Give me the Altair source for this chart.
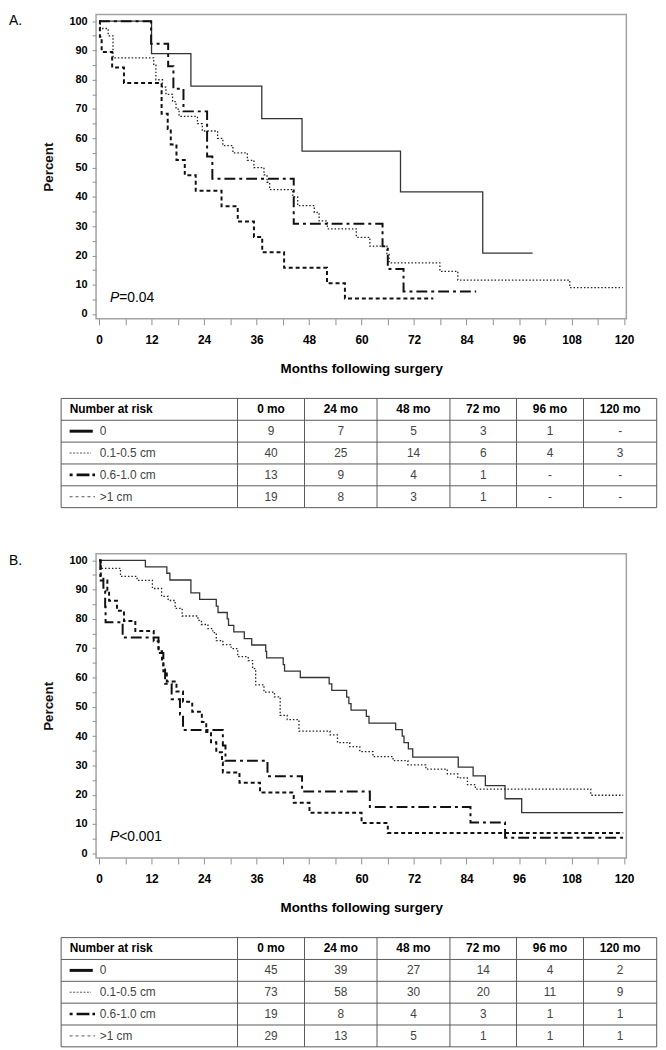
import altair as alt
import pandas as pd

# ---------------- data ----------------
GROUPS = ["0", "0.1-0.5 cm", "0.6-1.0 cm", ">1 cm"]
RISK_MONTHS = [0, 24, 48, 72, 96, 120]
HEADER = ["Number at risk"] + [f"{m} mo" for m in RISK_MONTHS]

# Panel A – Kaplan-Meier change points (months, percent)
A_T0 = [0, 12.0, 21.0, 37.2, 46.4, 68.9, 87.7]
A_S0 = [100, 88.9, 77.8, 66.7, 55.6, 41.7, 20.8]
A_T1 = [0, 0.3, 2.1, 3.2, 12.5, 13.0, 14.5, 15.3, 16.8, 17.6, 18.3, 22.5, 23.6, 27.1, 28.3,
        30.6, 33.9, 35.4, 37.7, 38.4, 39.0, 44.3, 45.4, 49.2, 50.3, 52.2, 58.8, 61.9, 65.8,
        66.3, 77.9, 82.0, 107.6]
A_S1 = [100, 97.5, 95, 87.5, 85, 80, 77.5, 75, 72.5, 70, 67.5, 65, 62.5, 60, 57.5,
        55, 52.5, 50, 47.5, 45, 42.5, 40, 37, 34.7, 31.8, 29.1, 26.2, 23.2, 20.4,
        17.5, 14.6, 11.6, 9.0]
A_T2 = [0, 11.9, 15.8, 17.0, 19.3, 24.7, 25.9, 44.5, 64.8, 66.0, 69.6]
A_S2 = [100, 92.3, 84.6, 76.9, 69.2, 53.8, 46.2, 30.8, 23.1, 15.4, 7.7]
A_T3 = [0, 0.2, 0.6, 3.0, 5.7, 14.3, 15.7, 16.4, 17.7, 19.6, 22.1, 28.0, 31.7, 35.4, 37.3,
        42.3, 52.1, 56.2]
A_S3 = [100, 94.7, 89.5, 84.2, 78.9, 68.4, 63.2, 57.9, 52.6, 47.4, 42.1, 36.8, 31.6, 26.3,
        21.1, 15.8, 10.5, 5.3]
A_END = [99.1, 119.7, 86.2, 76.4]
A_RISK = [["9", "7", "5", "3", "1", "-"],
          ["40", "25", "14", "6", "4", "3"],
          ["13", "9", "4", "1", "-", "-"],
          ["19", "8", "3", "1", "-", "-"]]
A_PVAL = "=0.04"

# Panel B
B_T0 = [0, 10.6, 15.5, 16.2, 21.0, 23.0, 26.8, 27.2, 29.3, 29.6, 30.8, 33.2, 34.9, 38.1, 38.3,
        42.1, 42.4, 46.0, 52.6, 53.2, 56.6, 57.1, 57.6, 61.1, 61.7, 67.8, 69.3, 69.7, 70.7,
        71.7, 82.1, 85.5, 88.3, 92.8, 96.6]
B_S0 = [100, 97.8, 95.6, 93.3, 88.9, 86.7, 84.4, 82.2, 80.0, 77.8, 75.6, 73.3, 71.1, 68.9, 66.7,
        64.4, 62.2, 60.0, 57.8, 55.6, 53.3, 51.1, 48.9, 46.7, 44.4, 42.2, 40.0, 37.8, 35.6,
        32.8, 29.4, 26.4, 23.1, 18.6, 13.9]
B_T1 = [0, 0.4, 4.9, 8.7, 12.2, 14.3, 15.8, 17.4, 19.0, 22.6, 23.4, 24.9, 26.0, 26.8, 28.3,
        30.2, 31.7, 34.1, 35.1, 35.8, 37.7, 40.1, 41.4, 43.0, 45.7, 52.8, 54.5, 57.3, 59.6,
        62.6, 67.2, 70.6, 74.7, 79.6, 82.0, 84.2, 86.0, 112.4]
B_S1 = [100, 97.3, 94.5, 93.2, 90.4, 87.7, 86.3, 83.6, 81.0, 79.5, 78.1, 76.7, 75.3, 72.6, 71.2,
        69.9, 67.1, 65.8, 63.0, 57.5, 55.0, 53.4, 47.1, 45.6, 41.7, 40.4, 37.8, 36.4, 34.7,
        33.0, 31.6, 30.2, 28.7, 27.1, 25.7, 23.4, 21.9, 19.8]
B_T2 = [0, 0.3, 1.0, 1.4, 1.5, 5.4, 13.6, 14.7, 15.1, 16.6, 18.5, 19.2, 28.3, 28.9, 38.5,
        46.4, 61.9, 84.9, 92.8]
B_S2 = [100, 94.7, 89.5, 84.2, 78.9, 73.7, 68.4, 63.2, 57.9, 52.6, 47.4, 42.1, 36.8, 31.6,
        26.3, 21.1, 15.8, 10.5, 5.3]
B_T3 = [0, 0.4, 1.9, 2.3, 4.1, 5.7, 8.3, 12.5, 13.6, 14.4, 14.7, 15.5, 17.7, 19.2, 21.3,
        23.5, 24.5, 25.6, 26.8, 28.1, 28.3, 32.1, 36.8, 44.5, 48.1, 60.0, 66.0]
B_S3 = [100, 93.1, 89.7, 86.2, 82.8, 79.3, 75.9, 72.4, 69.0, 65.5, 62.1, 58.6, 55.2, 51.7,
        48.3, 44.8, 41.4, 37.9, 34.5, 31.0, 27.6, 24.1, 20.7, 17.2, 13.8, 10.3, 6.9]
B_END = [119.8, 119.8, 119.8, 119.8]
B_RISK = [["45", "39", "27", "14", "4", "2"],
          ["73", "58", "30", "20", "11", "9"],
          ["19", "8", "4", "3", "1", "1"],
          ["29", "13", "5", "1", "1", "1"]]
B_PVAL = "<0.001"

# ---------------- layout / style ----------------
FONT = "Liberation Sans"
PW, PH = 536, 307.5
X_DOM = [-0.68, 120.52]
Y_DOM = [-1.62, 102.26]
COL_W = [178.3, 67.7, 73.3, 73.7, 67.3, 67.7, 74.0]
TBL_X0 = -35.3
ROW_H = 22.08
TBL_H = ROW_H * 5
FRAME = "#a3a3a3"
LINE_STYLES = {
    "0": dict(color="#333333", strokeWidth=1.3),
    "0.1-0.5 cm": dict(color="#222222", strokeWidth=1.3, strokeDash=[1.5, 2]),
    "0.6-1.0 cm": dict(color="#111111", strokeWidth=2, strokeDash=[11, 4, 3, 4]),
    ">1 cm": dict(color="#111111", strokeWidth=2, strokeDash=[4, 3]),
}
SAMPLE_STYLES = [
    dict(color="#111111", strokeWidth=3),
    dict(color="#555555", strokeWidth=1, strokeDash=[2, 1.5]),
    dict(color="#111111", strokeWidth=2.6, strokeDash=[3, 4, 13, 3, 3, 40]),
    dict(color="#555555", strokeWidth=1, strokeDash=[3, 3]),
]
SAMPLE_END = [32.0, 30.3, 34.3, 34.3]

XAXIS = alt.Axis(values=list(range(0, 121, 6)),
                 labelExpr="datum.value % 12 == 0 ? datum.label : ''",
                 tickSize=6, tickColor="#909090", tickWidth=1, domain=False, grid=False,
                 labelFont=FONT, labelFontSize=12, labelFontWeight="bold", labelColor="#000000",
                 labelPadding=10, labelFlush=False, labelOverlap=False,
                 title="Months following surgery", titleFont=FONT, titleFontSize=13.5,
                 titleFontWeight="bold", titleColor="#000000", titlePadding=16)
YAXIS = alt.Axis(values=list(range(0, 101, 5)),
                 labelExpr="datum.value % 10 == 0 ? datum.label : ''",
                 tickSize=4, tickColor="#909090", tickWidth=1, domain=False, grid=False,
                 labelFont=FONT, labelFontSize=11, labelFontWeight="bold", labelColor="#000000",
                 labelPadding=5, labelFlush=False, labelOverlap=False,
                 title="Percent", titleFont=FONT, titleFontSize=13.5, titleFontWeight="bold",
                 titleColor="#111111", titlePadding=14)


def km_frame(ts_list, ss_list, ends):
    rows = []
    for g, ts, ss, e in zip(GROUPS, ts_list, ss_list, ends):
        for t, s in zip(ts, ss):
            rows.append({"group": g, "t": t, "s": s})
        rows.append({"group": g, "t": e, "s": ss[-1]})
    return pd.DataFrame(rows)


def km_plot(df, letter, pval):
    xs = alt.Scale(domain=X_DOM, nice=False, zero=False)
    ys = alt.Scale(domain=Y_DOM, nice=False, zero=False)
    enc_x = alt.X("t:Q", scale=xs, axis=XAXIS)
    enc_y = alt.Y("s:Q", scale=ys, axis=YAXIS)
    layers = []
    for g in GROUPS:
        layers.append(
            alt.Chart(df).transform_filter(alt.datum.group == g)
            .mark_line(interpolate="step-after", **LINE_STYLES[g])
            .encode(x=enc_x, y=enc_y)
        )
    pdf = pd.DataFrame({"t": [2.5], "s": [5.5], "p": ["P"], "rest": [pval]})
    layers.append(alt.Chart(pdf).mark_text(align="left", baseline="middle", font=FONT,
                                           fontSize=14, fontStyle="italic", color="#000000")
                  .encode(x=enc_x, y=enc_y, text="p:N"))
    layers.append(alt.Chart(pdf).mark_text(align="left", baseline="middle", font=FONT,
                                           fontSize=14, dx=9.3, color="#000000")
                  .encode(x=enc_x, y=enc_y, text="rest:N"))
    ldf = pd.DataFrame({"lab": [letter]})
    layers.append(alt.Chart(ldf).mark_text(align="left", baseline="top", font=FONT, fontSize=14,
                                           color="#000000")
                  .encode(x=alt.value(-88), y=alt.value(0), text="lab:N"))
    return alt.layer(*layers).properties(
        width=PW, height=PH, view=alt.ViewBackground(stroke=FRAME, strokeWidth=1.5))


def risk_table(risk):
    edges = [0.0]
    for w in COL_W:
        edges.append(edges[-1] + w)
    xs = alt.Scale(domain=[0, edges[-1]], range=[TBL_X0, TBL_X0 + edges[-1]], nice=False, zero=False)
    ys = alt.Scale(domain=[0, 5], range=[0, TBL_H], nice=False, zero=False)
    hl = pd.DataFrame({"y": list(range(6)), "x0": 0.0, "x1": edges[-1]})
    vl = pd.DataFrame({"x": edges, "y0": 0, "y1": 5})
    centers = [(edges[i] + edges[i + 1]) / 2 for i in range(len(COL_W))]
    head_c = pd.DataFrame({"x": centers[1:], "y": 0.5, "txt": HEADER[1:]})
    head_l = pd.DataFrame({"x": [8.6], "y": [0.5], "txt": [HEADER[0]]})
    labs = pd.DataFrame({"x": 39.0, "y": [r + 1.5 for r in range(4)], "txt": GROUPS})
    vals = []
    for r, row in enumerate(risk):
        for c, v in enumerate(row):
            vals.append({"x": centers[c + 1], "y": r + 1.5, "txt": v})
    vals = pd.DataFrame(vals)

    X = lambda f: alt.X(f, scale=xs, axis=None)
    Y = lambda f: alt.Y(f, scale=ys, axis=None)
    layers = [
        alt.Chart(hl).mark_rule(color="#5a5a5a", strokeWidth=1).encode(x=X("x0:Q"), x2="x1:Q", y=Y("y:Q")),
        alt.Chart(vl).mark_rule(color="#5a5a5a", strokeWidth=1).encode(x=X("x:Q"), y=Y("y0:Q"), y2="y1:Q"),
        alt.Chart(head_l).mark_text(align="left", baseline="middle", font=FONT, fontSize=12,
                                    fontWeight="bold", color="#000000")
        .encode(x=X("x:Q"), y=Y("y:Q"), text="txt:N"),
        alt.Chart(head_c).mark_text(align="center", baseline="middle", font=FONT, fontSize=12,
                                    fontWeight="bold", color="#000000")
        .encode(x=X("x:Q"), y=Y("y:Q"), text="txt:N"),
        alt.Chart(labs).mark_text(align="left", baseline="middle", font=FONT, fontSize=12,
                                  color="#444444")
        .encode(x=X("x:Q"), y=Y("y:Q"), text="txt:N"),
        alt.Chart(vals).mark_text(align="center", baseline="middle", font=FONT, fontSize=12,
                                  color="#444444")
        .encode(x=X("x:Q"), y=Y("y:Q"), text="txt:N"),
    ]
    for r in range(4):
        sdf = pd.DataFrame({"x0": [8.6], "x1": [SAMPLE_END[r]], "y": [r + 1.5]})
        layers.append(alt.Chart(sdf).mark_rule(**SAMPLE_STYLES[r])
                      .encode(x=X("x0:Q"), x2="x1:Q", y=Y("y:Q")))
    return alt.layer(*layers).properties(
        width=PW, height=TBL_H, view=alt.ViewBackground(stroke="transparent", strokeWidth=0))


dfA = km_frame([A_T0, A_T1, A_T2, A_T3], [A_S0, A_S1, A_S2, A_S3], A_END)
dfB = km_frame([B_T0, B_T1, B_T2, B_T3], [B_S0, B_S1, B_S2, B_S3], B_END)

panelA = alt.vconcat(km_plot(dfA, "A.", A_PVAL), risk_table(A_RISK), spacing=22)
panelB = alt.vconcat(km_plot(dfB, "B.", B_PVAL), risk_table(B_RISK), spacing=22)

chart = (alt.vconcat(panelA, panelB, spacing=45)
         .properties(padding=0)
         .configure_view(strokeWidth=0)
         .configure(font=FONT, background="#ffffff"))

chart.save("out.html", embed_options={"renderer": "svg", "actions": False})
